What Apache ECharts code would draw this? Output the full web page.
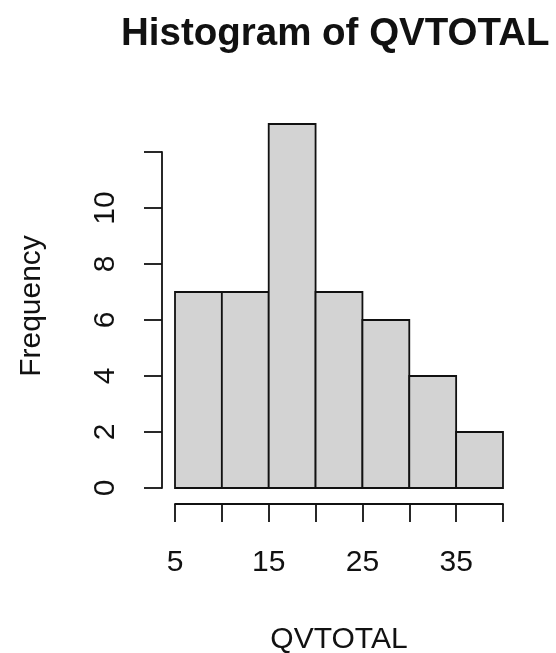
<!DOCTYPE html>
<html>
<head>
<meta charset="utf-8">
<script src="https://cdn.jsdelivr.net/npm/echarts@6/dist/echarts.min.js"></script>
<style>html,body{margin:0;padding:0;background:#fff;}#c{width:556px;height:653px;}</style>
</head>
<body>
<div id="c"></div>
<script>
var binStarts = [5, 10, 15, 20, 25, 30, 35];
var binEnds = [10, 15, 20, 25, 30, 35, 40];
var counts = [7, 7, 13, 7, 6, 4, 2];
var xTickLabels = [5, 15, 25, 35];
var yTickLabels = [0, 2, 4, 6, 8, 10];

var data = binStarts.map(function (s, i) { return [s, binEnds[i], counts[i]]; });
var font = 'Liberation Sans, Arial, sans-serif';
var lineW = 1.8;

var chart = echarts.init(document.getElementById('c'), null, {renderer: 'canvas'});
chart.setOption({
  animation: false,
  backgroundColor: '#fff',
  title: {
    text: 'Histogram of QVTOTAL',
    left: 116, top: 10,
    textStyle: {fontFamily: font, fontSize: 38.5, fontWeight: 'bold', color: '#111'}
  },
  grid: [
    {left: 175, right: 53, top: 124, bottom: 165, outerBoundsMode: 'none', containLabel: false},
    {left: 175, right: 53, top: 152, bottom: 165, outerBoundsMode: 'none', containLabel: false},
    {left: 175, right: 53, top: 152, bottom: 149, outerBoundsMode: 'none', containLabel: false}
  ],
  xAxis: [
    {gridIndex: 0, type: 'value', min: 5, max: 40, show: false},
    {gridIndex: 1, type: 'value', min: 5, max: 40, show: false},
    {
      gridIndex: 2, type: 'value', min: 5, max: 40, interval: 5,
      name: 'QVTOTAL', nameLocation: 'middle', nameGap: 121,
      nameTextStyle: {fontFamily: font, fontSize: 30, color: '#111'},
      axisLine: {show: true, lineStyle: {color: '#111', width: lineW}},
      axisTick: {show: true, inside: false, length: 18, lineStyle: {color: '#111', width: lineW}},
      axisLabel: {
        margin: 44, fontFamily: font, fontSize: 30, color: '#111',
        formatter: function (v) { return xTickLabels.indexOf(v) >= 0 ? String(v) : ''; }
      },
      splitLine: {show: false}
    }
  ],
  yAxis: [
    {
      gridIndex: 0, type: 'value', min: 0, max: 13,
      name: 'Frequency', nameLocation: 'middle', nameGap: 128,
      nameTextStyle: {fontFamily: font, fontSize: 30, color: '#111'},
      axisLine: {show: false}, axisTick: {show: false}, axisLabel: {show: false},
      splitLine: {show: false}
    },
    {
      gridIndex: 1, type: 'value', min: 0, max: 12, interval: 2, offset: 13,
      axisLine: {show: true, lineStyle: {color: '#111', width: lineW}},
      axisTick: {show: true, length: 18, lineStyle: {color: '#111', width: lineW}},
      axisLabel: {
        rotate: 90, margin: 41, fontFamily: font, fontSize: 30, color: '#111',
        formatter: function (v) { return yTickLabels.indexOf(v) >= 0 ? String(v) : ''; }
      },
      splitLine: {show: false}
    },
    {gridIndex: 2, type: 'value', min: 0, max: 12, show: false}
  ],
  series: [{
    type: 'custom',
    xAxisIndex: 0, yAxisIndex: 0,
    data: data,
    renderItem: function (params, api) {
      var p0 = api.coord([api.value(0), api.value(2)]);
      var p1 = api.coord([api.value(1), 0]);
      return {
        type: 'rect',
        shape: {x: p0[0], y: p0[1], width: p1[0] - p0[0], height: p1[1] - p0[1]},
        style: {fill: '#d3d3d3', stroke: '#111', lineWidth: lineW}
      };
    }
  }]
});
</script>
</body>
</html>
